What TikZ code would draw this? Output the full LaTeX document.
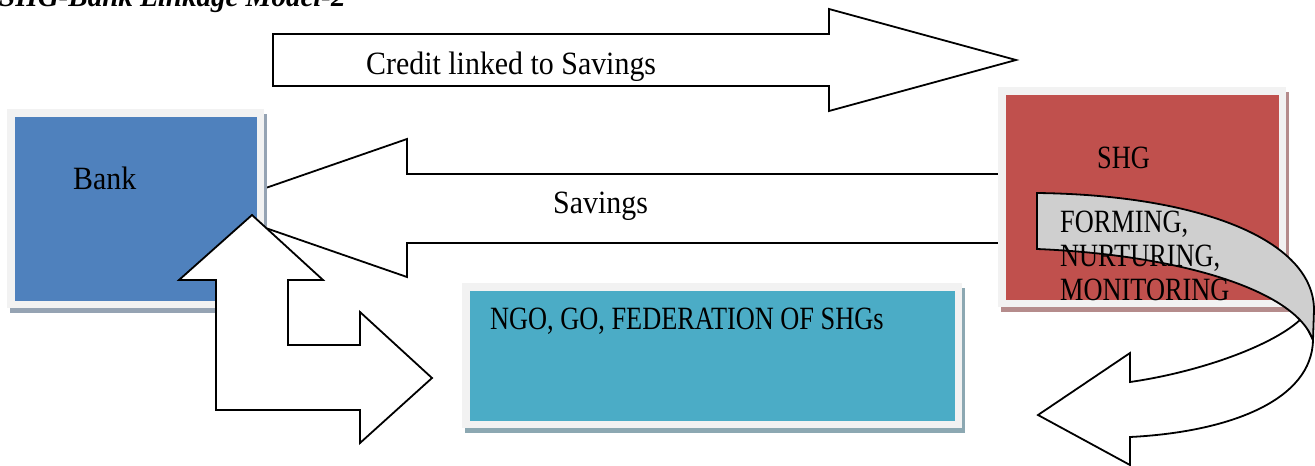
\documentclass[tikz,border=0pt]{standalone}
\usepackage{fontspec}
\setmainfont{Liberation Serif}
\newfontfamily\capsfont[FakeStretch=0.81]{Liberation Serif}
\newfontfamily\lowfont[FakeStretch=0.92]{Liberation Serif}
\usepackage{tikz}
\usepackage{xcolor}
\usetikzlibrary{calc, positioning}

\definecolor{bankblue}{HTML}{4F81BD}
\definecolor{shgred}{HTML}{C0504D}
\definecolor{ngoteal}{HTML}{4BACC6}
\definecolor{framegray}{HTML}{F2F2F2}
\definecolor{bankshade}{HTML}{95A3B3}
\definecolor{shgshade}{HTML}{B58C8C}
\definecolor{ngoshade}{HTML}{8CA8B2}
\definecolor{bandgray}{HTML}{CFCFCF}

\tikzset{
  colbox/.style 2 args={fill=#1, draw=framegray, line width=7.5pt, inner sep=0pt,
    preaction={draw=#2, fill=#2, transform canvas={shift={(3pt,-5pt)}}}},
  blockarrow/.style={draw=black, fill=white, line width=1.8pt, line join=miter},
  lowlbl/.style={inner sep=0pt, font=\lowfont\fontsize{32.5}{34}\selectfont},
  capslbl/.style={inner sep=0pt, font=\capsfont\fontsize{32.5}{34}\selectfont},
  titlelbl/.style={inner sep=0pt, font=\bfseries\itshape\fontsize{29}{31}\selectfont}
}

\begin{document}
\begin{tikzpicture}[x=1pt, y=-1pt]
                    \useasboundingbox (0, 0) rectangle (1315, 466);

                    \node[titlelbl, anchor=base west] (title) at (-1, 6) {SHG-Bank Linkage Model-2};

                    % savings arrow, ends hidden under the boxes
                    \draw[blockarrow]
                    (1010, 174) -- (407, 174) -- (407, 139) -- (208, 208) -- (407, 277) -- (407, 243) -- (1010, 243) -- cycle;

                    % credit arrow
                    \draw[blockarrow]
                    (273, 34) -- (829, 34) -- (829, 9) -- (1016, 60) -- (829, 111) -- (829, 86) -- (273, 86) -- cycle;

                    \node[colbox={bankblue}{bankshade}, minimum width=249.5pt, minimum height=191.5pt] (bank) at (135.5, 208.5) {};
                    \node[colbox={shgred}{shgshade}, minimum width=280.5pt, minimum height=212.5pt] (shg) at (1142, 197) {};
                    \node[colbox={ngoteal}{ngoshade}, minimum width=492.5pt, minimum height=137.5pt] (ngo) at (712, 355.5) {};

                    % bent arrow from bank to ngo
                    \draw[blockarrow]
                    (252, 215) -- (323, 280) -- (288, 280) -- (288, 345) -- (360, 345) -- (360, 312) -- (432, 378)
                    -- (360, 443) -- (360, 410) -- (216, 410) -- (216, 280) -- (179, 280) -- cycle;

                    % curved arrow round the shg box
                    \draw[blockarrow]
                    (1302, 318) -- (1313, 340) .. controls (1312, 400) and (1230, 432) .. (1130, 437)
                    -- (1130, 465) -- (1038, 415) -- (1130, 353) -- (1130, 382)
                    .. controls (1200, 372) and (1275, 345) .. (1302, 318) -- cycle;
                    \draw[blockarrow, fill=bandgray]
                    (1037, 193) .. controls (1200, 195) and (1314, 240) .. (1314, 310) -- (1313, 340)
                    .. controls (1295, 290) and (1180, 255) .. (1037, 249) -- cycle;

                    \node[lowlbl, anchor=base west] (credittxt) at (366, 74) {Credit linked to Savings};
                    \node[lowlbl, anchor=base west] (savingstxt) at (553, 213) {Savings};
                    \node[lowlbl, anchor=base west] (banktxt) at (73, 189) {Bank};
                    \node[capslbl, anchor=base west] (shgtxt) at (1097, 168) {SHG};
                    \node[capslbl, anchor=north west, align=left] (roletxt) at (1060, 210.5) {FORMING,\\NURTURING,\\MONITORING};
                    \node[capslbl, anchor=base west] (ngotxt) at (490, 329) {NGO, GO, FEDERATION OF SHGs};
                \end{tikzpicture}
\end{document}
